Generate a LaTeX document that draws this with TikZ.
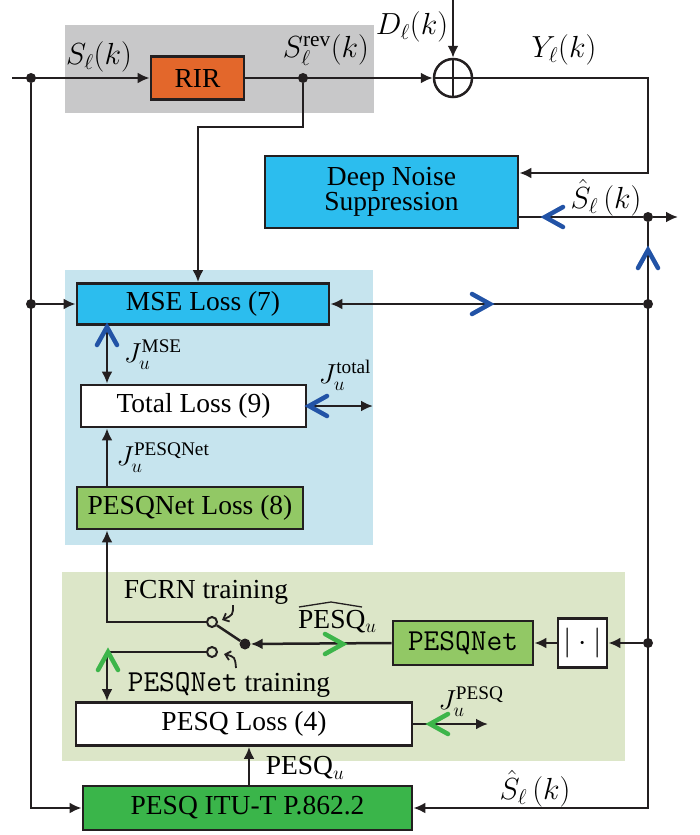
\RequirePackage{fix-cm}
\documentclass[tikz,border=0pt]{standalone}
\usepackage{amsmath}
\usepackage{fontspec}
\setmainfont{Liberation Serif}
\usetikzlibrary{arrows.meta}
\definecolor{bggray}{HTML}{C8C8C9}
\definecolor{bgblue}{HTML}{C6E4EE}
\definecolor{bggreen}{HTML}{DCE6C8}
\definecolor{rirorange}{HTML}{E3672B}
\definecolor{dnscyan}{HTML}{2CBDEE}
\definecolor{lgreen}{HTML}{92C865}
\definecolor{dgreen}{HTML}{3AB54A}
\definecolor{mkblue}{HTML}{2253A6}
\definecolor{mkgreen}{HTML}{3DB54A}
\definecolor{ink}{HTML}{231F20}
\newcommand{\monotxt}[1]{{\fontsize{30.5}{32}\ttfamily #1}}
\tikzset{
  box/.style={draw=ink, line width=2.8pt, minimum height=43pt, inner sep=0pt, font=\fontsize{27.5}{30}\selectfont},
  conn/.style={draw=ink, line width=2.5pt},
  arr/.style={conn, -{Latex[length=12pt,width=11pt]}},
  dot/.style={circle, fill=ink, inner sep=0pt, minimum size=10pt},
  term/.style={circle, draw=ink, line width=2pt, inner sep=0pt, minimum size=10pt},
  lbl/.style={inner sep=0pt, font=\fontsize{27.5}{30}\selectfont},
  siglbl/.style={inner sep=0pt, font=\fontsize{30.5}{33}\selectfont},
  smallarr/.style={draw=ink, line width=1.8pt, -{Straight Barb[length=5pt,width=9pt]}},
  chevron/.pic={\draw[line width=4.5pt, line cap=round, line join=miter] (-9,10) -- (9,0) -- (-9,-10);}
}
\begin{document}
\begin{tikzpicture}[x=1pt,y=-1pt]
\useasboundingbox (0,0) rectangle (699,835);
% backgrounds
\fill[bggray] (65,25) rectangle (374,113);
\fill[bgblue] (65,270) rectangle (373,545);
\fill[bggreen] (62,572) rectangle (625,761);
% boxes
\node[box, fill=rirorange, minimum width=93pt] (RIR) at (197.5,78) {RIR};
\node[circle, draw=ink, line width=2.5pt, minimum size=38pt, inner sep=0pt] (sum) at (453,78) {};
\draw[conn] (sum.north) -- (sum.south) (sum.west) -- (sum.east);
\node[box, fill=dnscyan, minimum width=253pt, minimum height=72pt, align=center, font=\fontsize{27.5}{24}\selectfont] (DNS) at (391.5,192) {Deep Noise\\Suppression};
\node[box, fill=dnscyan, minimum width=252pt, minimum height=41pt] (MSE) at (203,304) {MSE Loss (7)};
\node[box, fill=white, minimum width=225pt, minimum height=42pt] (TOT) at (193.5,406) {Total Loss (9)};
\node[box, fill=lgreen, minimum width=226pt, minimum height=42pt] (PL) at (190,508) {PESQNet Loss (8)};
\node[box, fill=lgreen, minimum width=140pt, minimum height=44pt] (PN) at (463,643) {\monotxt{PESQNet}};
\node[box, fill=white, minimum width=49pt, minimum height=49pt, font=\fontsize{30}{32}\selectfont] (ABS) at (582.5,643) {$|\cdot|$};
\node[box, fill=white, minimum width=336pt, minimum height=43pt] (PLOSS) at (244,724) {PESQ Loss (4)};
\node[box, fill=dgreen, minimum width=329pt, minimum height=44pt] (ITU) at (247.5,808) {PESQ ITU-T P.862.2};
% dots and terminals
\node[dot] (d1) at (31,78) {};
\node[dot] (d2) at (303,78) {};
\node[dot] (d3) at (648,217) {};
\node[dot] (d4) at (648,304) {};
\node[dot] (d5) at (648,643) {};
\node[dot] (d6) at (31,304) {};
\node[term, fill=bggreen] (t1) at (212,622) {};
\node[term, fill=bggreen] (t2) at (212,652) {};
\node[dot, minimum size=11pt] (pv) at (245,644) {};
% helper coordinates
\coordinate (in) at (12,78);
\coordinate (dtop) at (453,0);
\coordinate (ycorner) at (648,78);
\coordinate (revturn) at (198,127);
\coordinate (outend) at (678,217);
\coordinate (colA) at (107,0);
\coordinate (colB) at (249,0);
\coordinate (jt) at (373,406);
\coordinate (jp) at (488,724);
% connectors
\draw[arr] (in) -- (RIR.west);
\draw[arr] (RIR.east) -- (sum.west);
\draw[arr] (dtop) -- (sum.north);
\draw[arr] (sum.east) -- (ycorner) |- ([yshift=19pt]DNS.east);
\draw[arr] (d2) |- (revturn) -- (revturn |- MSE.north);
\draw[conn] ([yshift=-25pt]DNS.east) -- (d3);
\draw[arr] (d3) -- (outend);
\draw[arr] (d3) |- (ITU.east);
\draw[arr] (d4) -- (MSE.east);
\draw[arr] (d5) -- (ABS.east);
\draw[arr] (ABS.west) -- (PN.east);
\draw[arr] (PN.west) -- (pv);
\draw[conn] (pv) -- (t1);
\draw[arr] (d1) |- (ITU.west);
\draw[arr] (d6) -- (MSE.west);
\draw[arr] (MSE.south -| colA) -- (TOT.north -| colA);
\draw[arr] (PL.north -| colA) -- (TOT.south -| colA);
\draw[arr] (TOT.east) -- (jt);
\draw[arr] (t1.west) -| (PL.south -| colA);
\draw[arr] (t2.west) -| (PLOSS.north -| colA);
\draw[arr] (ITU.north -| colB) -- (PLOSS.south -| colB);
\draw[arr] (PLOSS.east) -- (jp);
\draw[smallarr] (233,605) .. controls (233,615) .. (222,620);
\draw[smallarr] (236,668) .. controls (235,657) .. (224,654);
% chevron markers
\pic[mkblue, rotate=180] at (554,217) {chevron};
\pic[mkblue, rotate=90] at (648,259) {chevron};
\pic[mkblue, rotate=90] at (107,336) {chevron};
\pic[mkblue, rotate=180] at (318,406) {chevron};
\pic[mkblue] at (481,304) {chevron};
\pic[mkgreen] at (334,644) {chevron};
\pic[mkgreen, rotate=90] at (108,661) {chevron};
\pic[mkgreen, rotate=180] at (439,724) {chevron};
% labels
\node[siglbl] (lS) at (99,57) {$S_\ell(k)$};
\node[siglbl] (lSrev) at (326,50) {$S_\ell^{\text{rev}}(k)$};
\node[siglbl] (lD) at (412,27) {$D_\ell(k)$};
\node[siglbl] (lY) at (564,50) {$Y_\ell(k)$};
\node[siglbl] (lSh1) at (606,198) {$\hat{S}_\ell\left(k\right)$};
\node[lbl] (lJmse) at (153,355) {$J_u^{\text{MSE}}$};
\node[lbl] (lJtot) at (345,375) {$J_u^{\text{total}}$};
\node[lbl] (lJpn) at (163,458) {$J_u^{\text{PESQNet}}$};
\node[lbl] (lFCRN) at (206,592) {FCRN training};
\node[lbl, anchor=base west] (lPhat) at (298,628) {PESQ$_u$};
\draw[ink, line width=1.3pt] (299,607) -- (331,602) -- (362,607);
\node[lbl] (lPNt) at (229,685) {\monotxt{PESQNet} training};
\node[lbl] (lJp) at (471,702) {$J_u^{\text{PESQ}}$};
\node[lbl] (lPu) at (305,768) {PESQ$_u$};
\node[siglbl] (lSh2) at (535,789) {$\hat{S}_\ell\left(k\right)$};
\end{tikzpicture}
\end{document}
